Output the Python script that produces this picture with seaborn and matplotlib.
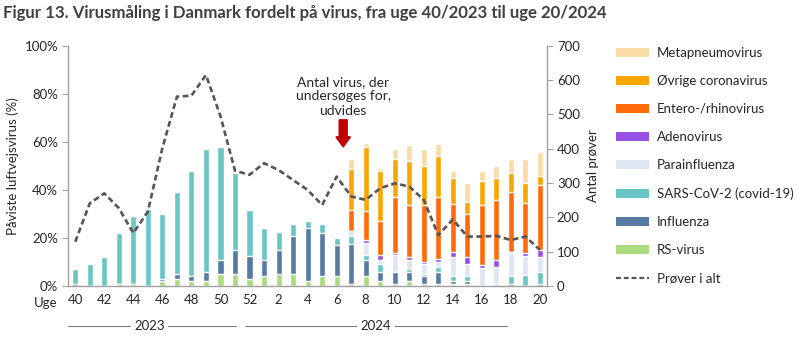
import numpy as np
import pandas as pd
import matplotlib
matplotlib.use("Agg")
import matplotlib.pyplot as plt
from matplotlib.patches import Patch, FancyArrow
from matplotlib.lines import Line2D
import matplotlib.transforms as mtransforms
import seaborn as sns

# Weeks 40/2023 .. 20/2024
weeks = [40, 41, 42, 43, 44, 45, 46, 47, 48, 49, 50, 51, 52,
         1, 2, 3, 4, 5, 6, 7, 8, 9, 10, 11, 12, 13, 14, 15, 16, 17, 18, 19, 20]

# Share of samples positive per virus (%)
rs_virus = [0, 0, 0, 1, 1, 0, 2, 3, 2, 2, 5, 5, 3,
            4, 5, 5, 2, 4, 4, 1, 4, 2, 1, 2, 1, 1, 1, 1, 0, 0, 0, 0, 0]
influenza = [1, 0, 0, 0, 0, 0, 1, 2, 2, 4, 6, 10, 9.5,
             7, 10, 16, 22, 18, 13, 16.5, 7, 4, 5, 4, 3, 5, 1, 1, 0, 0, 1, 0, 1]
sars_cov_2 = [6, 9, 12, 21, 28, 32, 27, 34, 44, 51, 47, 32, 19,
              13, 7.5, 5, 3, 4, 3, 3.5, 2, 3, 0, 1, 1, 2, 2, 2, 0, 1, 3, 4.5, 5]
parainfluenza = [0, 0, 0, 0, 0, 0, 0, 0, 0, 0, 0, 0, 0,
                 0, 0, 0, 0, 0, 0, 1.7, 5, 2, 6.7, 4, 4, 2, 8, 5, 7.5, 6.7, 10, 8, 6]
adenovirus = [0, 0, 0, 0, 0, 0, 0, 0, 0, 0, 0, 0, 0,
              0, 0, 0, 0, 0, 0, 0, 1.2, 2, 1.2, 0.9, 0.9, 1.2, 2, 3, 1.2, 3.3, 0, 1.2, 3]
entero_rhino = [0, 0, 0, 0, 0, 0, 0, 0, 0, 0, 0, 0, 0,
                0, 0, 0, 0, 0, 0, 9, 12, 14, 23, 22, 24, 26, 20, 18, 25, 25, 25, 21, 27]
other_corona = [0, 0, 0, 0, 0, 0, 0, 0, 0, 0, 0, 0, 0,
                0, 0, 0, 0, 0, 0, 17, 26.5, 21, 16, 18, 16, 17, 11, 5, 10, 9, 8, 8, 4]
metapneumo = [0, 0, 0, 0, 0, 0, 0, 0, 0, 0, 0, 0, 0,
              0, 0, 0, 0, 0, 0, 4, 2, 1, 4, 7, 7, 5, 3, 8, 4, 5, 6, 10, 10]

# Total number of samples per week
samples_total = [129, 241, 270, 227, 154, 217, 402, 552, 555, 615, 495, 336, 324,
                 358, 338, 309, 280, 236, 319, 261, 251, 285, 299, 290, 251, 148,
                 194, 144, 144, 146, 134, 144, 105]

series_names = ["RS-virus", "Influenza", "SARS-CoV-2 (covid-19)", "Parainfluenza",
                "Adenovirus", "Entero-/rhinovirus", "Øvrige coronavirus", "Metapneumovirus"]
series_values = [rs_virus, influenza, sars_cov_2, parainfluenza,
                 adenovirus, entero_rhino, other_corona, metapneumo]
series_colors = ["#ABDB7F", "#587BA3", "#6AC5C5", "#DDE6F1",
                 "#9650E6", "#FF6A0A", "#F9A602", "#FADBA6"]

week_labels = [str(w) for w in weeks]
df = pd.DataFrame({name: vals for name, vals in zip(series_names, series_values)})
df["week"] = week_labels
cumulative = df[series_names].cumsum(axis=1)
cumulative["week"] = week_labels

sns.set_theme(style="white")
plt.rcParams["font.family"] = ["Lato", "DejaVu Sans"]
text_color = "#262626"
spine_color = "#A0A0A0"

fig = plt.figure(figsize=(8, 3.4), dpi=100)
ax = fig.add_axes([0.085, 0.159, 0.599, 0.706])

# Stacked bars: draw cumulative totals from the top series down
for name, color in reversed(list(zip(series_names, series_colors))):
    sns.barplot(data=cumulative, x="week", y=name, order=week_labels, color=color,
                saturation=1, width=0.42, errorbar=None, ax=ax, zorder=2)

ax.set_xlim(-0.5, len(weeks) - 0.5)
ax.set_ylim(0, 100)
ax.set_yticks(np.arange(0, 101, 20))
ax.set_yticklabels([f"{v}%" for v in range(0, 101, 20)], fontsize=9.5, color=text_color)
ax.set_ylabel("Påviste luftvejsvirus (%)", fontsize=9.5, color=text_color, labelpad=4)
ax.set_xlabel("")

pos = np.arange(len(weeks))
ax.set_xticks(pos[::2])
ax.set_xticklabels(week_labels[::2], fontsize=9.5, color=text_color)
ax.set_xticks(np.arange(-0.5, len(weeks), 1), minor=True)
ax.tick_params(axis="x", which="major", length=0, pad=6)
ax.tick_params(axis="x", which="minor", length=4, width=0.8, color=spine_color, direction="out")
ax.tick_params(axis="y", length=4, width=0.8, color=spine_color, direction="out", pad=3, left=True)

for side in ["top", "right"]:
    ax.spines[side].set_visible(False)
for side in ["left", "bottom"]:
    ax.spines[side].set_color(spine_color)
    ax.spines[side].set_linewidth(1)

# Total samples on the secondary axis
ax2 = ax.twinx()
line_df = pd.DataFrame({"pos": pos, "samples": samples_total})
sns.lineplot(data=line_df, x="pos", y="samples", ax=ax2, color="#555555",
             linewidth=1.9, linestyle=(0, (2.2, 1.3)), zorder=3)
ax2.set_ylim(0, 700)
ax2.set_yticks(np.arange(0, 701, 100))
ax2.set_yticklabels([str(v) for v in range(0, 701, 100)], fontsize=9.5, color=text_color)
ax2.set_ylabel("Antal prøver", fontsize=9.5, color=text_color, labelpad=5)
ax2.set_xlabel("")
ax2.tick_params(axis="y", length=4, width=0.8, color=spine_color, direction="out", pad=3, right=True)
for side in ["top", "left", "bottom"]:
    ax2.spines[side].set_visible(False)
ax2.spines["right"].set_color(spine_color)
ax2.spines["right"].set_linewidth(1)
ax2.set_xlim(-0.5, len(weeks) - 0.5)

# Week label and year brackets below the x axis
trans = mtransforms.blended_transform_factory(ax.transData, ax.transAxes)
ax.text(-2.05, -0.071, "Uge", transform=trans, fontsize=9.5, color=text_color,
        ha="center", va="center")
for x0, x1, xc, label in [(-0.48, 11.08, 5.1, "2023"), (11.7, 29.7, 20.7, "2024")]:
    ax.add_line(Line2D([x0, x1], [-0.167, -0.167], transform=trans, color="#7F7F7F",
                       linewidth=0.8, clip_on=False))
    ax.text(xc, -0.167, label, transform=trans, fontsize=9.5, color=text_color,
            ha="center", va="center",
            bbox=dict(facecolor="white", edgecolor="none", pad=2.5))

# Annotation with arrow
ax.text(18.45, 79.0, "Antal virus, der\nundersøges for,\nudvides", fontsize=10,
        color=text_color, ha="center", va="center", linespacing=1.25, zorder=5)
ax.add_patch(FancyArrow(18.45, 69.2, 0, -11.3, width=0.55, head_width=1.0,
                        head_length=4.2, length_includes_head=True,
                        color="#C00000", zorder=5))

# Legend
handles = [Patch(facecolor=c, edgecolor="none", label=n)
           for n, c in reversed(list(zip(series_names, series_colors)))]
handles.append(Line2D([0], [0], color="#555555", linewidth=1.6,
                      linestyle=(0, (2.2, 1.3)), label="Prøver i alt"))
fig.legend(handles=handles, loc="upper left", bbox_to_anchor=(0.763, 0.878),
           frameon=False, fontsize=9.5, handlelength=2.55, handleheight=0.65,
           labelspacing=1.22, handletextpad=0.6, borderaxespad=0,
           labelcolor=text_color)

fig.text(0.004, 0.963, "Figur 13. Virusmåling i Danmark fordelt på virus, fra uge 40/2023 til uge 20/2024",
         fontsize=12.1, fontweight="bold", color="#404040", ha="left", va="center")

fig.savefig("out.png", dpi=100)
